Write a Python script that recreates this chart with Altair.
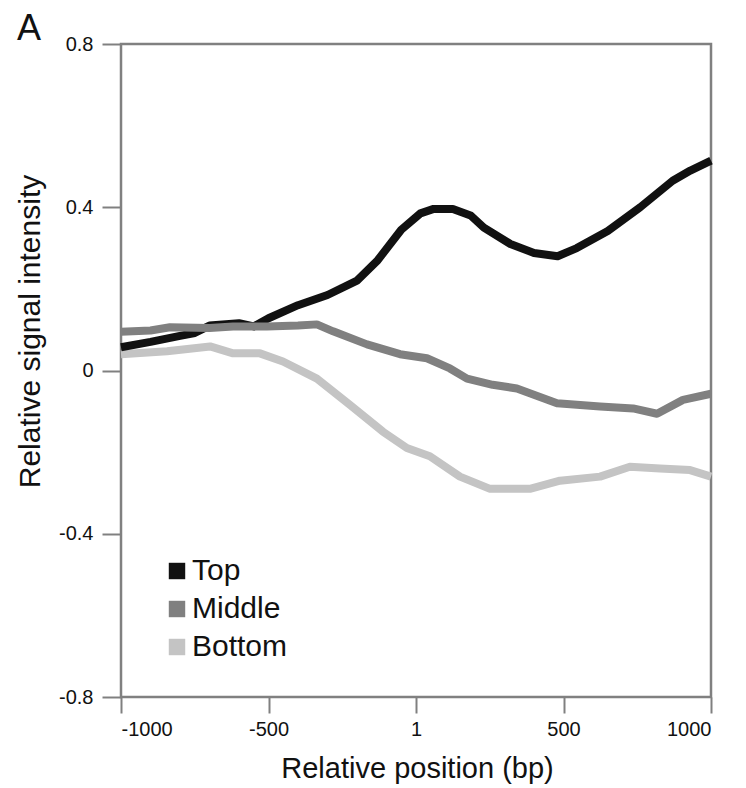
import altair as alt
import pandas as pd

# Top series
top_x = [-1000, -900, -800, -750, -700, -600, -550, -500, -400, -300, -200, -130, -50, 15, 60, 125, 185, 230, 320, 400, 480, 545, 650, 760, 870, 930, 1000]
top_y = [0.057, 0.07, 0.085, 0.092, 0.11, 0.116, 0.108, 0.128, 0.16, 0.185, 0.22, 0.27, 0.345, 0.385, 0.396, 0.396, 0.38, 0.35, 0.31, 0.288, 0.28, 0.30, 0.342, 0.40, 0.465, 0.49, 0.514]

# Middle series
mid_x = [-1000, -900, -834, -700, -620, -505, -400, -336, -281, -166, -54, 37, 115, 173, 260, 342, 478, 624, 736, 817, 905, 1000]
mid_y = [0.095, 0.098, 0.106, 0.104, 0.108, 0.108, 0.11, 0.113, 0.096, 0.064, 0.04, 0.03, 0.005, -0.02, -0.035, -0.044, -0.08, -0.088, -0.093, -0.106, -0.072, -0.057]

# Bottom series
bot_x = [-1000, -844, -698, -620, -529, -451, -336, -224, -112, -31, 47, 149, 251, 386, 488, 624, 725, 827, 929, 1000]
bot_y = [0.04, 0.047, 0.059, 0.042, 0.042, 0.022, -0.02, -0.084, -0.15, -0.19, -0.21, -0.26, -0.29, -0.29, -0.27, -0.26, -0.236, -0.24, -0.244, -0.26]

series_names = ["Top", "Middle", "Bottom"]
series_colors = ["#111111", "#808080", "#c4c4c4"]

x_ticks = [-1000, -500, 0, 500, 1000]
y_ticks = [-0.8, -0.4, 0, 0.4, 0.8]

rows = []
for name, xs, ys in [("Bottom", bot_x, bot_y), ("Top", top_x, top_y), ("Middle", mid_x, mid_y)]:
    for i, (a, b) in enumerate(zip(xs, ys)):
        rows.append({"series": name, "pos": a, "val": b, "i": i})
df = pd.DataFrame(rows)

FONT = "Liberation Sans"
gray = "#808080"

color = alt.Color(
    "series:N",
    scale=alt.Scale(domain=series_names, range=series_colors),
    sort=series_names,
    legend=alt.Legend(
        title=None,
        orient="none",
        legendX=41,
        legendY=512,
        symbolType="square",
        symbolSize=270,
        symbolStrokeWidth=0,
        labelFontSize=30,
        labelFont=FONT,
        labelColor="#111111",
        labelOffset=0,
        rowPadding=8,
        padding=0,
    ),
)

x_enc = alt.X(
    "pos:Q",
    scale=alt.Scale(domain=[-1000, 1000], nice=False),
    axis=alt.Axis(
        values=x_ticks,
        labelExpr="datum.value == 0 ? '1' : '' + datum.value",
        title="Relative position (bp)",
        titleX=296,
        titleY=80,
        titleBaseline="alphabetic",
        titleFontSize=29,
        titleFontWeight="normal",
        titleFont=FONT,
        titleColor="#111111",
        labelFontSize=20,
        labelFont=FONT,
        labelColor="#111111",
        labelPadding=6,
        tickSize=16,
        tickWidth=2,
        tickColor=gray,
        domain=False,
        grid=False,
    ),
)

y_enc = alt.Y(
    "val:Q",
    scale=alt.Scale(domain=[-0.8, 0.8], nice=False),
    axis=alt.Axis(
        values=y_ticks,
        labelExpr="'' + datum.value",
        title="Relative signal intensity",
        titleX=-82,
        titleY=287,
        titleAngle=270,
        titleAlign="center",
        titleBaseline="alphabetic",
        titleFontSize=30,
        titleFontWeight="normal",
        titleFont=FONT,
        titleColor="#111111",
        labelFontSize=20,
        labelFont=FONT,
        labelColor="#111111",
        labelPadding=9,
        tickSize=19,
        tickWidth=2,
        tickColor=gray,
        domain=False,
        grid=False,
    ),
)

lines = alt.Chart(df).mark_line(strokeWidth=8, strokeJoin="round").encode(
    x=x_enc, y=y_enc, color=color, detail="series:N", order="i:Q"
)

legend_points = alt.Chart(df).transform_filter("false").mark_point(
    filled=True, shape="square", opacity=1
).encode(x="pos:Q", y="val:Q", color=color)

panel_label = alt.Chart(pd.DataFrame({"t": ["A"]})).mark_text(
    align="left", baseline="alphabetic", fontSize=36, font=FONT, color="#111111"
).encode(x=alt.value(-104), y=alt.value(-4), text="t:N")

chart = alt.layer(lines, legend_points, panel_label).properties(
    width=590,
    height=653,
    background="white",
    autosize=alt.AutoSizeParams(type="none"),
    padding={"left": 113, "top": 36, "right": 20, "bottom": 90},
).configure_view(
    stroke=gray, strokeWidth=2.5
)

chart.save("out.html", embed_options={"renderer": "svg", "actions": False})
